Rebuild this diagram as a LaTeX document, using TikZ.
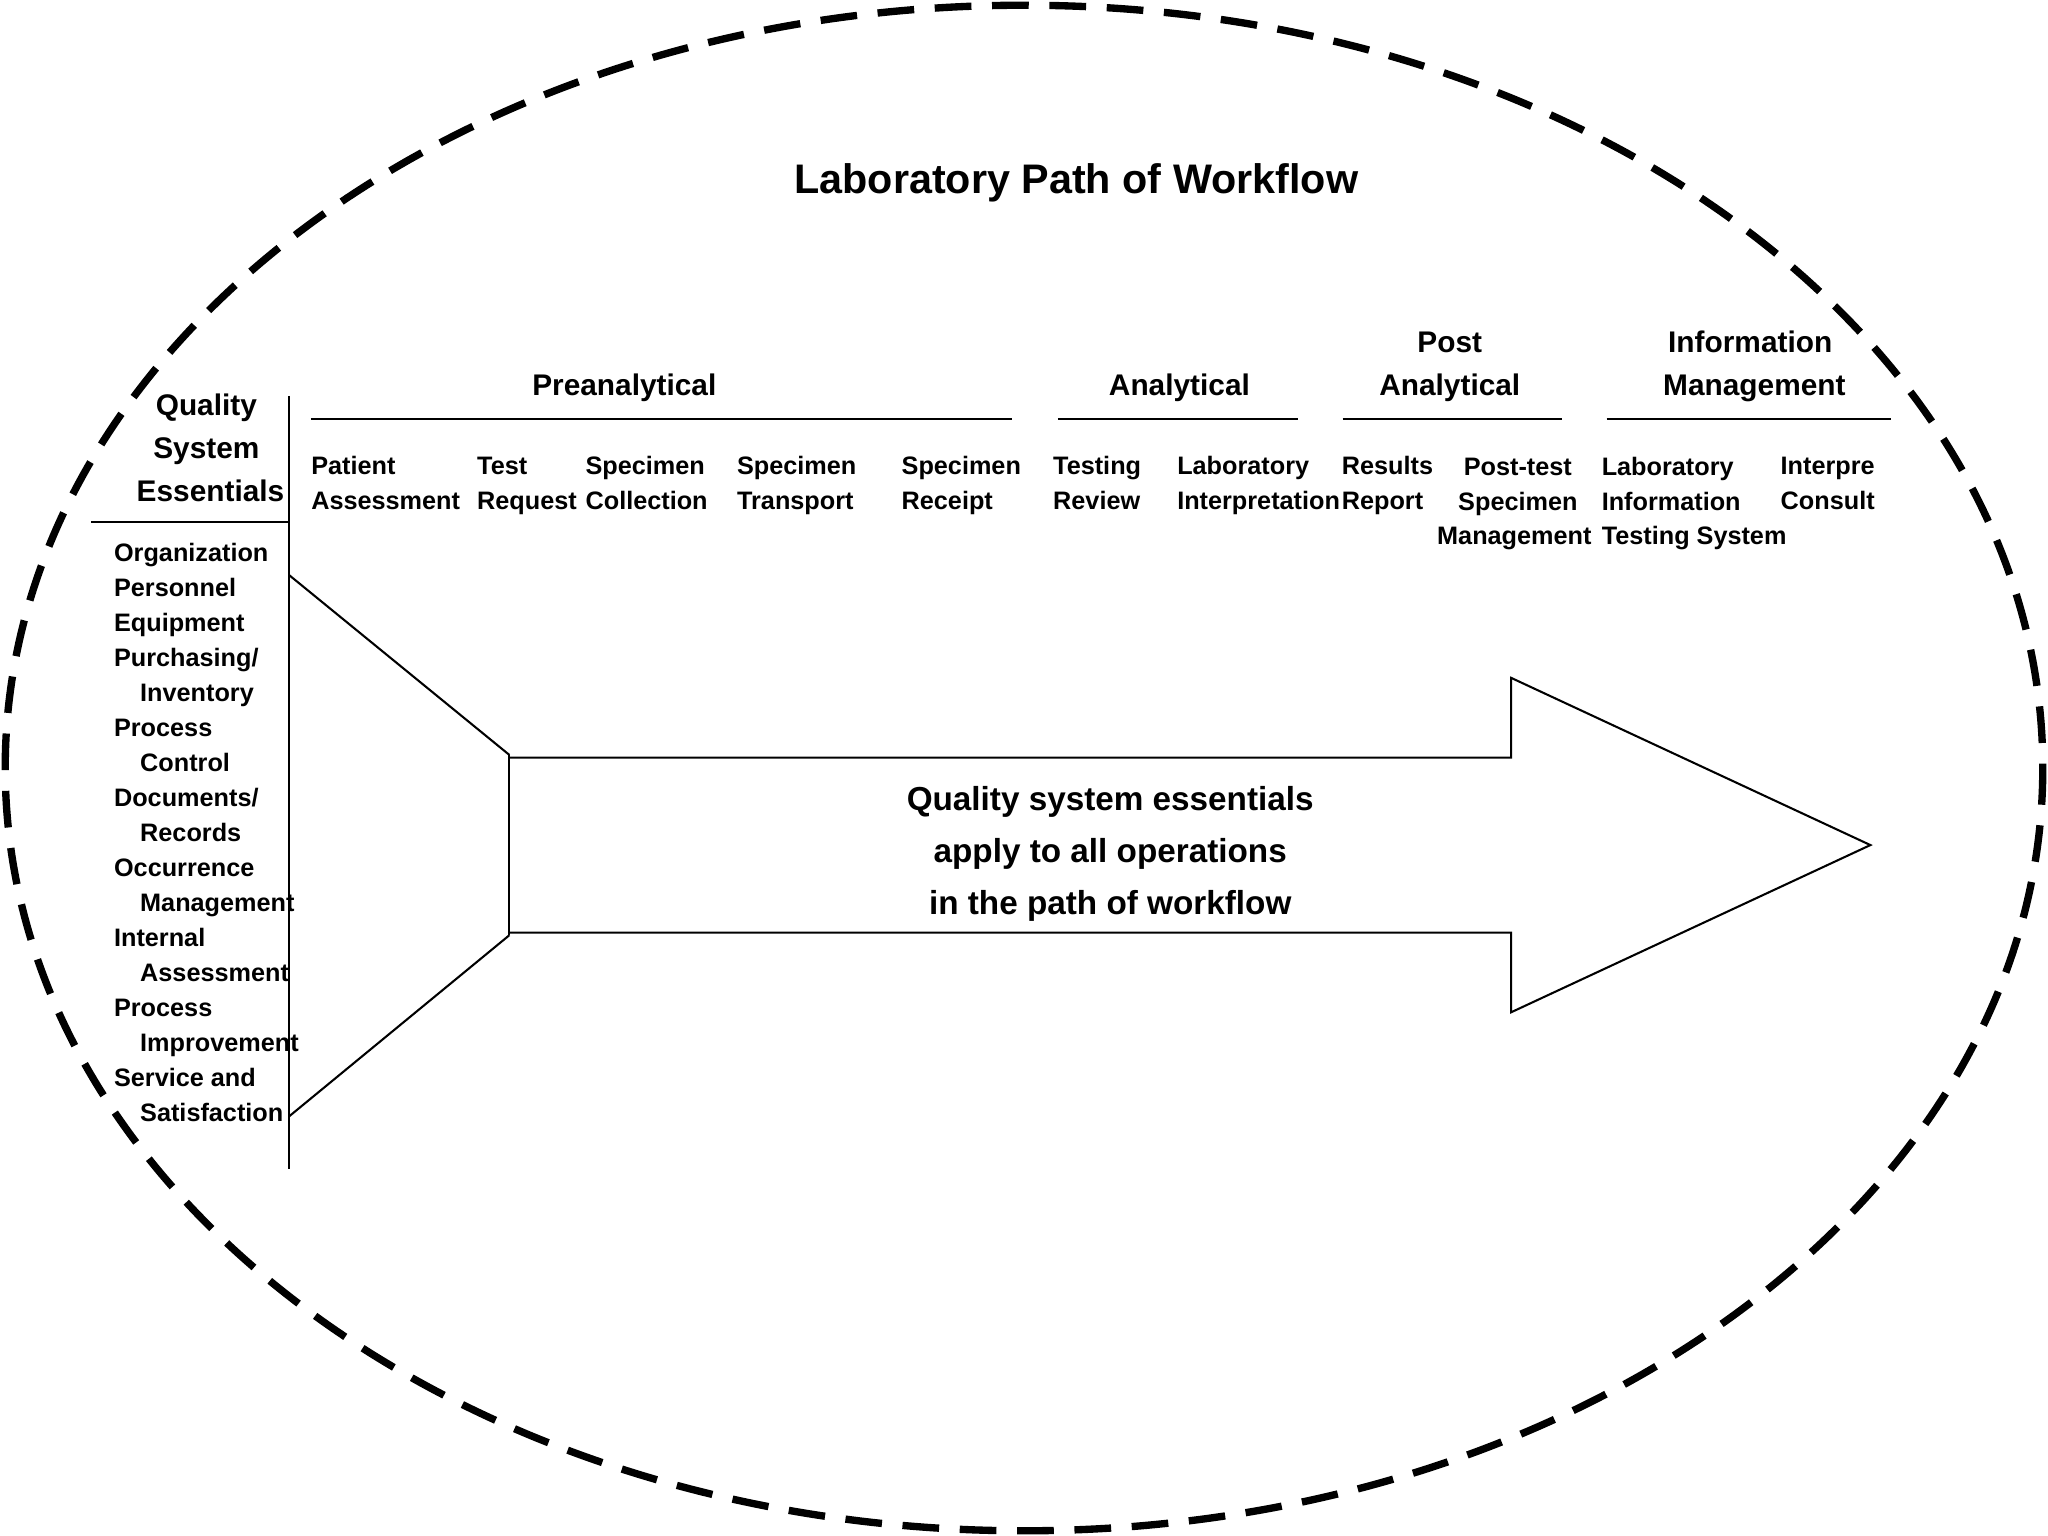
\documentclass[tikz,border=0pt]{standalone}
\usepackage{fontspec}
\setmainfont{Liberation Sans}
\begin{document}
\begin{tikzpicture}[x=0.02cm,y=-0.02cm,
  lbl/.style={anchor=base west,inner sep=0,font=\bfseries\fontsize{11}{15}\selectfont,align=left},
  hdr/.style={anchor=base,inner sep=0,font=\bfseries\fontsize{13}{18.7}\selectfont,align=center},
  ln/.style={line width=0.9pt}]
\useasboundingbox (0,0) rectangle (1568,1176);
\draw[line width=3.2pt,dash pattern=on 16pt off 9pt] (784,588) ellipse [x radius=780,y radius=584];
\node[anchor=base,inner sep=0,font=\bfseries\fontsize{18}{22}\selectfont] (title) at (824,148) {Laboratory Path of Workflow};
% left column
\draw[ln] (221,303) -- (221,895);
\draw[ln] (70,400) -- (221,400);
\node[anchor=base,inner sep=0,font=\bfseries\fontsize{13}{18.7}\selectfont,align=center] (qse) at (158,384) {Quality\\System\\\ Essentials};
\foreach \t/\x/\i in {Organization/87/0,Personnel/87/1,Equipment/87/2,{Purchasing/}/87/3,Inventory/107/4,Process/87/5,Control/107/6,{Documents/}/87/7,Records/107/8,Occurrence/87/9,Management/107/10,Internal/87/11,Assessment/107/12,Process/87/13,Improvement/107/14,Service and/87/15,Satisfaction/107/16}
  \node[lbl] (li\i) at (\x,{430+26.8*\i}) {\t};
% funnel & arrow
\coordinate (f1) at (221,440); \coordinate (f2) at (221,855);
\coordinate (a1) at (390,578); \coordinate (a2) at (390,716);
\draw[ln] (f1) -- (a1) (f2) -- (a2);
\draw[ln] (a1) -- (a2);
\draw[ln] (390,580) -- (1157,580) -- (1157,519) -- (1432,647) -- (1157,775) -- (1157,714) -- (390,714);
\node[anchor=base,inner sep=0,font=\bfseries\fontsize{14.5}{22.7}\selectfont,align=center] (mid) at (850,700) {Quality system essentials\\apply to all operations\\in the path of workflow};
% headers
\draw[ln] (238,321) -- (775,321);
\draw[ln] (810,321) -- (994,321);
\draw[ln] (1028,321) -- (1196,321);
\draw[ln] (1230,321) -- (1448,321);
\node[hdr] (h1) at (478,303) {Preanalytical};
\node[hdr] (h2) at (903,303) {Analytical};
\node[hdr] (h3) at (1110,303) {Post\\Analytical};
\node[hdr] (h4) at (1340,303) {Information\\\ Management};
% column labels
\node[lbl] (c1) at (238,390) {Patient\\Assessment};
\node[lbl] (c2) at (365,390) {Test\\Request};
\node[lbl] (c3) at (448,390) {Specimen\\Collection};
\node[lbl] (c4) at (564,390) {Specimen\\Transport};
\node[lbl] (c5) at (690,390) {Specimen\\Receipt};
\node[lbl] (c6) at (806,390) {Testing\\Review};
\node[lbl] (c7) at (901,390) {Laboratory\\Interpretation};
\node[lbl] (c8) at (1027,390) {Results\\Report};
\node[lbl,align=center] (c9) at (1100,417) {\ Post-test\\\ Specimen\\Management};
\node[lbl] (c10) at (1226,417) {Laboratory\\Information\\Testing System};
\node[lbl] (c11) at (1363,390) {Interpre\\Consult};
\end{tikzpicture}
\end{document}
